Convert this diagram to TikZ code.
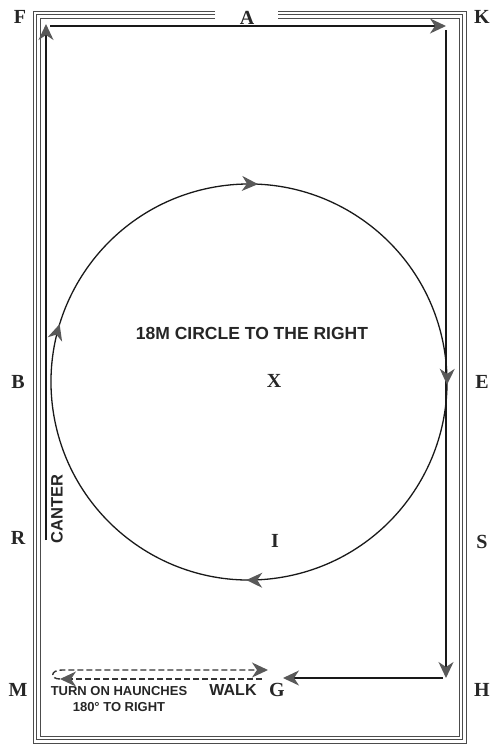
\documentclass[tikz,border=0pt]{standalone}
\usepackage{fontspec}
\setmainfont{Liberation Serif}
\setsansfont{Liberation Sans}
\usetikzlibrary{arrows.meta,decorations.markings}

\tikzset{
  head/.style={-{Stealth[length=16pt,width=15pt,inset=5pt,color=black!65]}},
  fence/.style={draw=black!70, line width=0.9pt},
  track/.style={draw=black!90, line width=1.6pt, head},
  walkline/.style={draw=black!80, line width=1.4pt, dash pattern=on 6pt off 3pt},
  letter/.style={font=\bfseries\fontsize{20}{20}\selectfont, text=black!85, inner sep=0pt},
  caption/.style={font=\sffamily\bfseries\fontsize{#1}{#1}\selectfont, text=black!85, inner sep=0pt},
}

\begin{document}
\begin{tikzpicture}[x=1pt, y=-1pt]
\useasboundingbox (0,0) rectangle (494,745);
% arena
\foreach \d in {0,3.5,7}
  \draw[fence] (215,11+\d) -- (33+\d,11+\d) -- (33+\d,743-\d) -- (466-\d,743-\d) -- (466-\d,11+\d) -- (278,11+\d);

% markers
\node[letter] (F) at (20,17) {F};
\node[letter] (A) at (247,18) {A};
\node[letter] (K) at (482,17) {K};
\node[letter] (B) at (18,382) {B};
\node[letter] (X) at (274,381) {X};
\node[letter] (E) at (482,382) {E};
\node[letter] (R) at (18,538) {R};
\node[letter] (I) at (275,541) {I};
\node[letter] (S) at (482,542) {S};
\node[letter] (M) at (18,690) {M};
\node[letter] (G) at (277,690) {G};
\node[letter] (H) at (482,690) {H};

% track corners
\coordinate (start) at (46,540);
\coordinate (fk1) at (46,24);
\coordinate (fk2) at (50,26);
\coordinate (kh1) at (446,26);
\coordinate (kh2) at (446,30);
\coordinate (hg1) at (446,678);
\coordinate (hg2) at (443,678);
\coordinate (hg3) at (283,678);

\draw[track] (start) -- (fk1);
\draw[track] (fk2) -- (kh1);
\draw[track] (kh2) -- (hg1);
\draw[track] (hg2) -- (hg3);

% circle
\coordinate (centre) at (249,382);
\draw[black!90, line width=1.3pt, postaction={decorate}, decoration={markings,
    mark=at position 0.03 with {\arrow{Stealth[length=16pt,width=15pt,inset=5pt,color=black!65]}},
    mark=at position 0.28 with {\arrow{Stealth[length=16pt,width=15pt,inset=5pt,color=black!65]}},
    mark=at position 0.575 with {\arrow{Stealth[length=16pt,width=15pt,inset=5pt,color=black!65]}},
    mark=at position 0.785 with {\arrow{Stealth[length=16pt,width=15pt,inset=5pt,color=black!65]}}}]
  ([shift={(-10:198)}]centre) arc[start angle=-10, end angle=350, radius=198];

% walk and turn
\coordinate (w1) at (262,679);
\coordinate (w2) at (60,679);
\coordinate (w3) at (62,670);
\coordinate (w4) at (268,670);
\draw[walkline, head] (w1) -- (w2);
\draw[walkline, head] (w2) .. controls (50,679) and (50,670) .. (w3) -- (w4);

% texts
\node[caption=17.5] (circ) at (252,333) {18M CIRCLE TO THE RIGHT};
\node[caption=16.5, rotate=90] (canter) at (57,509) {CANTER};
\node[caption=13] (turn) at (119,691) {TURN ON HAUNCHES};
\node[caption=13] (deg) at (119,707) {180° TO RIGHT};
\node[caption=16] (walk) at (233,690) {WALK};
\end{tikzpicture}
\end{document}
